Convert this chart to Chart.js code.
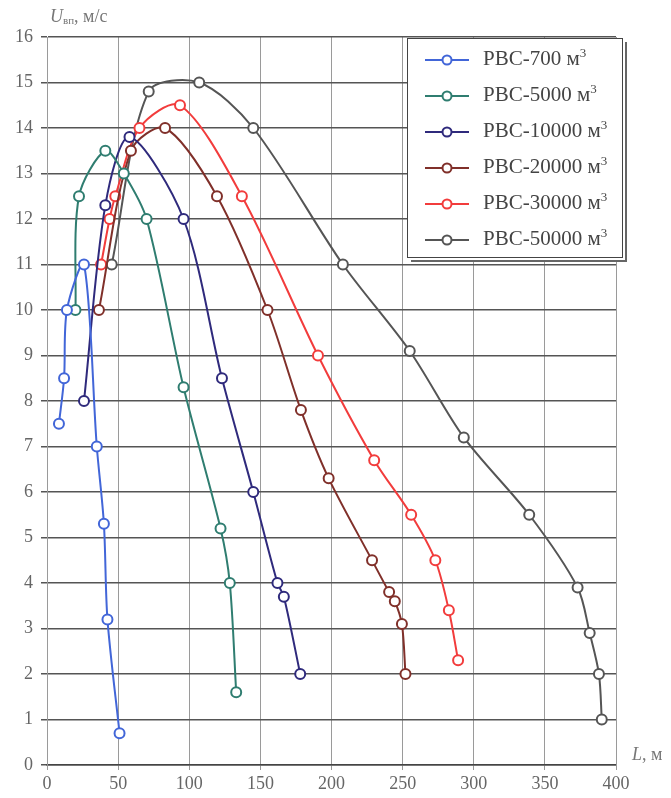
<!DOCTYPE html>
<html>
<head>
<meta charset="utf-8">
<script src="https://cdn.jsdelivr.net/npm/chart.js@4.4.0/dist/chart.umd.min.js"></script>
<style>
  body { margin: 0; background: #fff; }
  #wrap { position: relative; width: 671px; height: 798px; }
  #chart { position: absolute; left: 0; top: 0; }
  .lbl { position: absolute; font-family: "Liberation Serif", serif; color: #777; font-size: 18px; white-space: nowrap; }
  .lbl i { font-style: italic; }
  .lbl sub { font-size: 11px; vertical-align: -2px; }
  #legend { position: absolute; left: 407px; top: 38px; width: 214px; height: 218px; background: #fff;
            border: 1.5px solid #444; box-shadow: 3px 3px 0 -1px #fff, 4px 4px 0 0 #666; }
  .item { position: absolute; left: 16px; height: 24px; font-family: "Liberation Serif", serif; font-size: 21px; color: #444; }
  .item svg { position: absolute; left: 0; top: 6px; }
  .item span { position: absolute; left: 59px; top: -2px; white-space: nowrap; }
  .item sup { font-size: 13px; vertical-align: 8px; }
</style>
</head>
<body>
<div id="wrap">
  <canvas id="chart" width="671" height="798"></canvas>
  <div class="lbl" style="left:50px; top:6px;"><i>U</i><sub>вп</sub>, м/с</div>
  <div class="lbl" style="left:632px; top:744px;"><i>L</i>, м</div>
  <div id="legend"></div>
</div>
<script>
// кривые U(L) для разных резервуаров
const names = ['РВС-700', 'РВС-5000', 'РВС-10000', 'РВС-20000', 'РВС-30000', 'РВС-50000'];
const colors = ['#4266d8', '#2f7d70', '#2f2a7c', '#80302a', '#f23c3c', '#555555'];

const L700 = [8.4, 12, 14, 26, 35, 40, 42.5, 51];
const U700 = [7.5, 8.5, 10, 11, 7, 5.3, 3.2, 0.7];

const L5000 = [20, 22.5, 41, 54, 70, 96, 122, 128.5, 133];
const U5000 = [10, 12.5, 13.5, 13, 12, 8.3, 5.2, 4, 1.6];

const L10000 = [26, 41, 58, 96, 123, 145, 162, 166.5, 178];
const U10000 = [8, 12.3, 13.8, 12, 8.5, 6, 4, 3.7, 2];

const L20000 = [36.5, 59, 83, 119.5, 155, 178.5, 198, 228.5, 240.5, 244.5, 249.5, 252];
const U20000 = [10, 13.5, 14, 12.5, 10, 7.8, 6.3, 4.5, 3.8, 3.6, 3.1, 2];

const L30000 = [38, 44, 48, 65, 93.5, 137, 190.5, 230, 256, 273, 282.5, 289];
const U30000 = [11, 12, 12.5, 14, 14.5, 12.5, 9, 6.7, 5.5, 4.5, 3.4, 2.3];

const L50000 = [45.5, 71.5, 107, 145, 208, 255, 293, 339, 373, 381.5, 388, 390];
const U50000 = [11, 14.8, 15, 14, 11, 9.1, 7.2, 5.5, 3.9, 2.9, 2, 1];

const xTicks = [0, 50, 100, 150, 200, 250, 300, 350, 400];
const yTicks = [0, 1, 2, 3, 4, 5, 6, 7, 8, 9, 10, 11, 12, 13, 14, 15, 16];

const series = [[L700, U700], [L5000, U5000], [L10000, U10000], [L20000, U20000], [L30000, U30000], [L50000, U50000]];

const datasets = series.map((s, i) => ({
  label: names[i],
  data: s[0].map((x, k) => ({ x: x, y: s[1][k] })),
  borderColor: colors[i],
  borderWidth: 2,
  pointRadius: 5,
  pointBorderWidth: 2,
  pointBackgroundColor: '#fff',
  pointBorderColor: colors[i],
  tension: 0.3,
  fill: false
}));

const tickFont = { family: 'Liberation Serif', size: 18 };

new Chart(document.getElementById('chart'), {
  type: 'line',
  data: { datasets: datasets },
  options: {
    responsive: false,
    animation: false,
    layout: { padding: { top: 37, right: 55, bottom: 0, left: 0 } },
    plugins: { legend: { display: false }, tooltip: { enabled: false } },
    scales: {
      x: {
        type: 'linear', min: 0, max: 400,
        afterBuildTicks: sc => { sc.ticks = xTicks.map(v => ({ value: v })); },
        afterFit: sc => { sc.height = 33; },
        grid: { color: '#9a9a9a', lineWidth: 1, tickLength: 5 },
        border: { color: '#444', width: 1.5 },
        ticks: { font: tickFont, color: '#666', padding: 3, maxRotation: 0 }
      },
      y: {
        min: 0, max: 16,
        afterBuildTicks: sc => { sc.ticks = yTicks.map(v => ({ value: v })); },
        afterFit: sc => { sc.width = 47; },
        grid: { color: '#555', lineWidth: 1.5, tickLength: 6 },
        border: { color: '#9a9a9a', width: 1 },
        ticks: { font: tickFont, color: '#666', padding: 8 }
      }
    }
  },
  plugins: [{
    id: 'rightEdge',
    afterDraw(chart) {
      const a = chart.chartArea, c = chart.ctx;
      c.save();
      c.strokeStyle = '#9a9a9a';
      c.lineWidth = 1;
      c.beginPath();
      c.moveTo(a.right + 0.5, a.top);
      c.lineTo(a.right + 0.5, a.bottom + 5);
      c.stroke();
      c.restore();
    }
  }]
});

// легенда
const leg = document.getElementById('legend');
names.forEach((n, i) => {
  const d = document.createElement('div');
  d.className = 'item';
  d.style.top = (8 + i * 36) + 'px';
  d.innerHTML = '<svg width="46" height="14"><line x1="1" y1="7" x2="45" y2="7" stroke="' + colors[i] +
    '" stroke-width="2"/><circle cx="23" cy="7" r="4.5" fill="#fff" stroke="' + colors[i] +
    '" stroke-width="2"/></svg><span>' + n + ' м<sup>3</sup></span>';
  leg.appendChild(d);
});
</script>
</body>
</html>
